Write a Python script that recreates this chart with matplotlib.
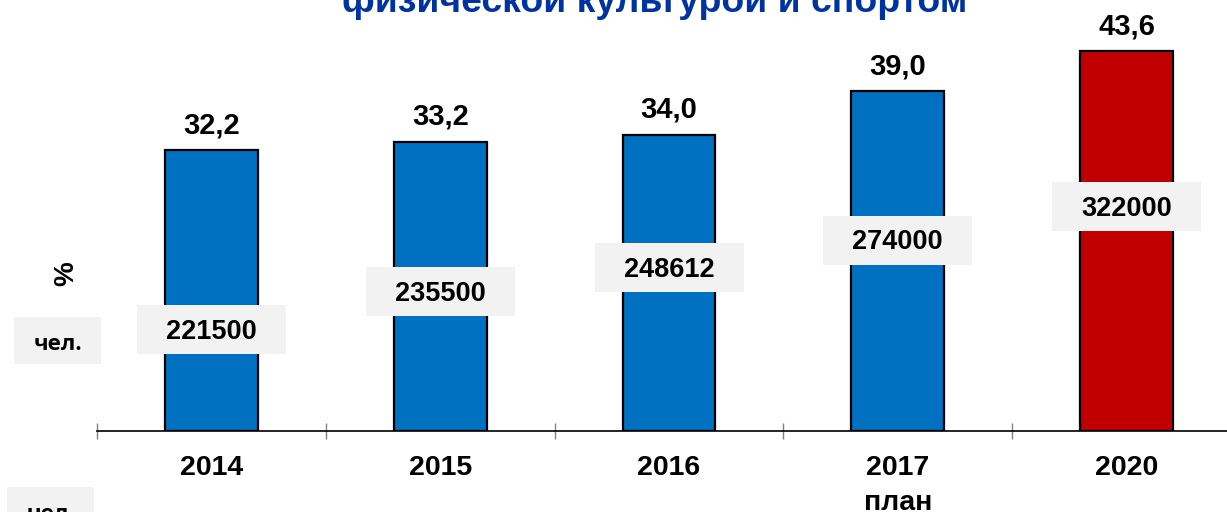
import matplotlib
matplotlib.use('Agg')
import matplotlib.pyplot as plt
from matplotlib.patches import Rectangle

# ---- data ----
categories = ['2014', '2015', '2016', '2017\nплан', '2020']
percent_values = [32.2, 33.2, 34.0, 39.0, 43.6]
percent_labels = ['32,2', '33,2', '34,0', '39,0', '43,6']
people_values = [221500, 235500, 248612, 274000, 322000]
bar_colors = ['#0070C0', '#0070C0', '#0070C0', '#0070C0', '#C00000']
title_text = 'физической культурой и спортом'
unit_percent = '%'
unit_people = 'чел.'

# ---- layout constants ----
W, H = 1227, 512
PX_PER_UNIT = 8.716
people_label_y = [11.59, 16.01, 18.76, 21.91, 25.70]  # box centres (layout)

plt.rcParams['font.family'] = ['Liberation Sans', 'DejaVu Sans']
fig = plt.figure(figsize=(W / 100, H / 100), dpi=100)
ax = fig.add_axes([97 / W, 81 / H, 1144 / W, 431 / H])
ax.set_xlim(-0.5, 4.5)
ax.set_ylim(0, 431 / PX_PER_UNIT)

x = list(range(len(categories)))
ax.bar(x, percent_values, width=0.406, color=bar_colors,
       edgecolor='black', linewidth=1.6, zorder=2)

for s in ['left', 'right', 'top']:
    ax.spines[s].set_visible(False)
ax.spines['bottom'].set_color('black')
ax.spines['bottom'].set_linewidth(1.2)
ax.set_yticks([])
ax.set_xticks([])
ax.set_xticks([i - 0.5 for i in range(len(categories) + 1)], minor=True)
ax.tick_params(axis='x', which='minor', direction='inout', length=12.2,
               width=1.0, color='#808080', labelbottom=False)
ax.xaxis.get_minor_ticks()[0].tick1line.set_color('black')

# value labels (percent)
for xi, v, lab in zip(x, percent_values, percent_labels):
    ax.annotate(lab, xy=(xi, v), xytext=(0, 12.0), textcoords='offset points',
                ha='center', va='baseline', fontsize=21, fontweight='bold',
                color='black')

# category labels
for xi, lab in zip(x, categories):
    ax.annotate(lab, xy=(xi, 0), xytext=(0, -17.0), textcoords='offset points',
                ha='center', va='top', fontsize=20.5, fontweight='bold',
                color='black', linespacing=1.45, annotation_clip=False)

# people labels in grey boxes
bw = 149 / 228.8
bh = 49 / PX_PER_UNIT
for xi, yc, val in zip(x, people_label_y, people_values):
    ax.add_patch(Rectangle((xi - bw / 2, yc - bh / 2), bw, bh,
                           facecolor='#F2F2F2', edgecolor='none', zorder=3))
    ax.annotate(str(val), xy=(xi, yc), xytext=(0, -6.8),
                textcoords='offset points', ha='center', va='baseline',
                fontsize=19.5, fontweight='bold', color='black', zorder=4)

# title (cut off at the top, as in the reference)
fig.text(655 / W, 1 - 12 / H, title_text, ha='center', va='baseline',
         fontsize=26.9, fontweight='bold', color='#0033A0')

# unit labels on the left
fig.text(66 / W, 1 - 274 / H, unit_percent, rotation=90, ha='center',
         va='center', fontsize=20, fontweight='bold', color='black')
fig.patches.append(Rectangle((14 / W, 1 - 364 / H), 87 / W, 47 / H,
                             transform=fig.transFigure, facecolor='#F2F2F2',
                             edgecolor='none', zorder=0))
fig.text(57.5 / W, 1 - 350 / H, unit_people, ha='center', va='baseline',
         fontsize=16, fontweight='bold', color='black',
         family=['Open Sans', 'DejaVu Sans'])
fig.patches.append(Rectangle((7 / W, 1 - 534 / H), 87 / W, 47 / H,
                             transform=fig.transFigure, facecolor='#F2F2F2',
                             edgecolor='none', zorder=0))
fig.text(50.5 / W, 1 - 520 / H, unit_people, ha='center', va='baseline',
         fontsize=16, fontweight='bold', color='black',
         family=['Open Sans', 'DejaVu Sans'])

fig.savefig('out.png', dpi=100)
